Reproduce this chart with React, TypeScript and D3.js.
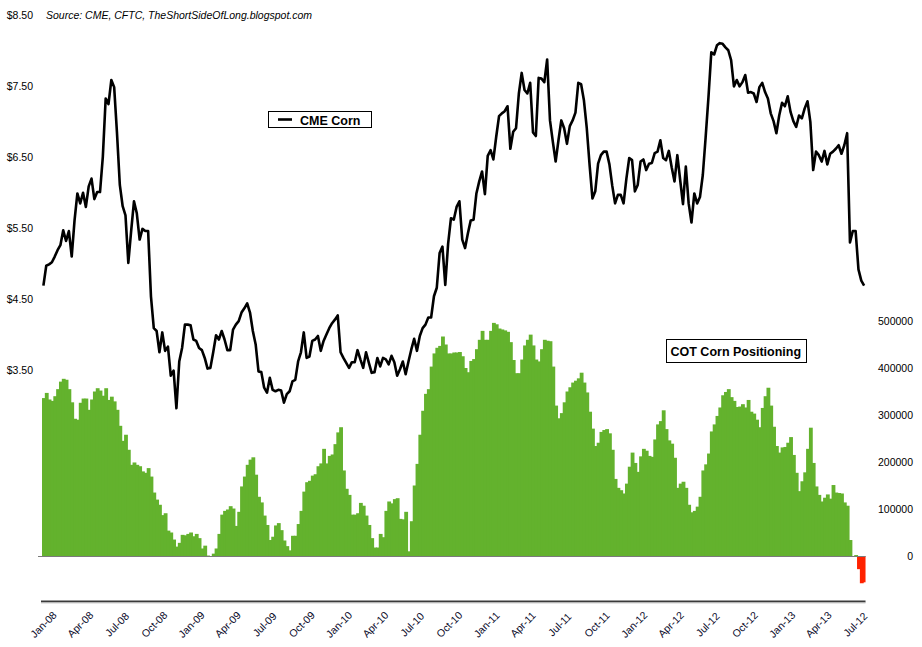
import React, { useEffect, useRef } from 'react';
import * as d3 from 'd3';

// first weekly observation (COT report week)
const startDate = new Date(2008, 0, 1);

// CME corn price, $ per bushel, weekly
const cornPrice: number[] = [
  4.69, 4.97, 4.99, 5.02, 5.10, 5.19, 5.26, 5.47, 5.32, 5.46,
  5.10, 5.61, 5.99, 5.85, 6.00, 5.80, 6.09, 6.20, 5.91, 6.01,
  6.01, 6.51, 7.33, 7.25, 7.59, 7.49, 6.84, 6.11, 5.81, 5.68,
  5.01, 5.46, 5.88, 5.71, 5.34, 5.49, 5.46, 5.46, 4.54, 4.09,
  4.05, 3.75, 4.03, 3.77, 3.83, 3.42, 3.49, 2.96, 3.62, 3.81,
  4.14, 4.14, 4.13, 3.93, 3.91, 3.81, 3.78, 3.67, 3.52, 3.53,
  3.75, 3.99, 3.93, 4.05, 3.93, 3.78, 3.78, 4.07, 4.14, 4.19,
  4.31, 4.37, 4.44, 4.31, 4.05, 3.86, 3.48, 3.47, 3.25, 3.18,
  3.39, 3.22, 3.20, 3.22, 3.21, 3.04, 3.16, 3.20, 3.34, 3.36,
  3.62, 3.75, 4.03, 3.67, 3.69, 3.91, 3.93, 3.98, 3.77, 3.91,
  4.00, 4.09, 4.16, 4.21, 4.27, 3.75, 3.67, 3.60, 3.53, 3.61,
  3.61, 3.78, 3.65, 3.53, 3.75, 3.60, 3.46, 3.47, 3.67, 3.55,
  3.67, 3.65, 3.58, 3.70, 3.61, 3.42, 3.51, 3.62, 3.44, 3.62,
  3.79, 3.94, 3.77, 3.98, 4.09, 4.14, 4.24, 4.24, 4.54, 4.66,
  5.15, 5.24, 4.70, 5.28, 5.64, 5.62, 5.80, 5.88, 5.34, 5.22,
  5.43, 5.61, 5.62, 5.99, 6.16, 6.30, 5.98, 6.52, 6.60, 6.47,
  6.79, 7.08, 7.12, 7.15, 7.22, 6.62, 6.86, 6.91, 7.40, 7.69,
  7.45, 7.40, 7.55, 6.85, 6.80, 7.62, 7.61, 7.56, 7.88, 7.02,
  6.72, 6.44, 6.74, 7.02, 6.91, 6.69, 6.94, 7.02, 7.13, 7.55,
  7.53, 7.30, 6.91, 6.39, 5.92, 6.02, 6.41, 6.53, 6.58, 6.58,
  6.40, 6.10, 5.85, 5.97, 5.97, 5.85, 6.20, 6.49, 6.46, 6.02,
  6.11, 6.44, 6.47, 6.32, 6.41, 6.42, 6.56, 6.58, 6.74, 6.49,
  6.46, 6.59, 6.36, 6.16, 6.53, 6.18, 5.84, 6.37, 5.85, 5.58,
  5.99, 5.85, 5.94, 6.25, 6.78, 7.35, 7.98, 7.95, 8.08, 8.11,
  8.10, 8.05, 8.01, 7.87, 7.50, 7.59, 7.50, 7.56, 7.66, 7.41,
  7.42, 7.40, 7.28, 7.49, 7.55, 7.42, 7.33, 7.12, 7.01, 6.84,
  7.09, 7.27, 7.22, 7.36, 7.14, 7.01, 6.93, 7.09, 7.05, 7.19,
  7.29, 7.00, 6.32, 6.58, 6.53, 6.44, 6.59, 6.40, 6.55, 6.58,
  6.62, 6.67, 6.55, 6.67, 6.84, 5.30, 5.46, 5.46, 4.92, 4.76,
  4.69,
];

// COT corn net positioning, thousands of contracts, weekly
const cotNet: number[] = [
  336, 347, 333, 330, 340, 355, 371, 377, 375, 355,
  327, 292, 290, 326, 335, 335, 311, 333, 350, 357,
  352, 341, 357, 332, 339, 329, 311, 277, 245, 258,
  226, 194, 199, 194, 191, 180, 177, 187, 169, 135,
  120, 109, 87, 91, 54, 50, 35, 20, 28, 45,
  44, 47, 50, 42, 47, 38, 16, 22, 1, 0,
  5, 16, 47, 88, 96, 99, 106, 101, 64, 94,
  148, 169, 194, 205, 210, 173, 126, 114, 86, 66,
  34, 41, 65, 70, 55, 33, 21, 12, 43, 43,
  68, 96, 137, 157, 160, 171, 174, 191, 197, 228,
  197, 213, 216, 238, 263, 274, 182, 143, 130, 88,
  88, 91, 113, 107, 86, 66, 38, 18, 18, 47,
  40, 96, 116, 112, 121, 123, 79, 78, 94, 10,
  74, 150, 196, 258, 309, 345, 355, 403, 431, 443,
  447, 467, 450, 431, 431, 433, 433, 434, 425, 400,
  391, 415, 419, 440, 460, 479, 460, 460, 479, 496,
  493, 484, 482, 480, 477, 455, 417, 389, 389, 418,
  448, 460, 471, 448, 418, 414, 440, 460, 458, 457,
  403, 320, 293, 304, 327, 350, 359, 369, 373, 378,
  390, 369, 348, 307, 271, 234, 241, 264, 268, 270,
  261, 226, 164, 145, 140, 133, 154, 190, 220, 198,
  179, 212, 228, 224, 213, 211, 248, 280, 287, 310,
  270, 246, 239, 209, 145, 154, 158, 145, 109, 93,
  96, 105, 126, 182, 195, 218, 265, 280, 298, 316,
  342, 349, 355, 338, 330, 317, 318, 323, 316, 332,
  307, 303, 290, 274, 315, 340, 358, 320, 275, 234,
  220, 231, 232, 241, 253, 215, 177, 138, 159, 178,
  228, 273, 198, 148, 130, 116, 124, 131, 122, 151,
  135, 134, 133, 114, 107, 34, -2, 2, -28, -58,
  -56,
];

// quarter labels as printed on the original (last one reads Jul-12)
const quarterLabels = [
  'Jan-08', 'Apr-08', 'Jul-08', 'Oct-08',
  'Jan-09', 'Apr-09', 'Jul-09', 'Oct-09',
  'Jan-10', 'Apr-10', 'Jul-10', 'Oct-10',
  'Jan-11', 'Apr-11', 'Jul-11', 'Oct-11',
  'Jan-12', 'Apr-12', 'Jul-12', 'Oct-12',
  'Jan-13', 'Apr-13', 'Jul-12',
];

const priceTicks = [3.5, 4.5, 5.5, 6.5, 7.5, 8.5];
const cotTicks = [0, 100, 200, 300, 400, 500];

const GREEN = '#63b22d';
const RED = '#ff2200';
const FONT = '"Liberation Sans", Arial, sans-serif';

const App: React.FC = () => {
  const svgRef = useRef<SVGSVGElement>(null);

  useEffect(() => {
    if (!svgRef.current) return;
    const svg = d3.select(svgRef.current);
    svg.selectAll('*').remove();

    const n = Math.min(cornPrice.length, cotNet.length);
    const weeks = d3.range(n).map(i => d3.timeDay.offset(startDate, 7 * i));

    const plotLeft = 42;
    const step = 2.83;
    const x = d3.scaleTime()
      .domain([startDate, d3.timeDay.offset(startDate, 7 * n)])
      .range([plotLeft, plotLeft + n * step]);

    const yPrice = d3.scaleLinear().domain([3.5, 8.5]).range([370, 15.5]);
    const yCot = d3.scaleLinear().domain([0, 500]).range([556, 321]);

    // bars (slightly overlapped so no seams show between weeks)
    svg.append('g')
      .selectAll('rect')
      .data(cotNet.slice(0, n))
      .enter().append('rect')
      .attr('x', (d, i) => x(weeks[i]))
      .attr('width', (d, i) => (i === n - 1 ? step : step + 1))
      .attr('y', d => (d >= 0 ? yCot(d) : yCot(0)))
      .attr('height', d => Math.abs(yCot(d) - yCot(0)))
      .attr('fill', d => (d >= 0 ? GREEN : RED));

    // zero line for the positioning series
    svg.append('line')
      .attr('x1', 38).attr('x2', plotLeft + n * step)
      .attr('y1', yCot(0) + 0.5).attr('y2', yCot(0) + 0.5)
      .attr('stroke', '#7a7a7a').attr('stroke-width', 1);

    // bottom axis line
    svg.append('line')
      .attr('x1', 41).attr('x2', plotLeft + n * step)
      .attr('y1', 601.5).attr('y2', 601.5)
      .attr('stroke', '#3a3a3a').attr('stroke-width', 2);
    svg.append('line')
      .attr('x1', 41).attr('x2', plotLeft + n * step)
      .attr('y1', 603).attr('y2', 603)
      .attr('stroke', '#cfcfcf').attr('stroke-width', 1);

    // price line
    const line = d3.line<number>()
      .x((d, i) => x(weeks[i]) + step / 2)
      .y(d => yPrice(d));
    svg.append('path')
      .datum(cornPrice.slice(0, n))
      .attr('d', line)
      .attr('fill', 'none')
      .attr('stroke', '#000')
      .attr('stroke-width', 2.6)
      .attr('stroke-linejoin', 'round');

    // left axis labels
    svg.append('g')
      .selectAll('text')
      .data(priceTicks)
      .enter().append('text')
      .attr('x', 33)
      .attr('y', d => yPrice(d))
      .attr('dy', '0.35em')
      .attr('text-anchor', 'end')
      .attr('font-family', FONT)
      .attr('font-size', '10.5px')
      .attr('fill', '#000')
      .text(d => '$' + d.toFixed(2));

    // right axis labels
    svg.append('g')
      .selectAll('text')
      .data(cotTicks)
      .enter().append('text')
      .attr('x', 913)
      .attr('y', d => yCot(d))
      .attr('dy', '0.35em')
      .attr('text-anchor', 'end')
      .attr('font-family', FONT)
      .attr('font-size', '10.5px')
      .attr('fill', '#000')
      .text(d => String(d * 1000));

    // quarter labels
    svg.append('g')
      .selectAll('text')
      .data(quarterLabels)
      .enter().append('text')
      .attr('transform', (d, q) => {
        const date = new Date(2008 + Math.floor(q / 4), (q % 4) * 3, 1);
        return `translate(${x(date) + 1.5},624.5) rotate(-45)`;
      })
      .attr('dy', '0.35em')
      .attr('text-anchor', 'middle')
      .attr('font-family', FONT)
      .attr('font-size', '10.5px')
      .attr('fill', '#0a0a2a')
      .text(d => d);

    // source note
    svg.append('text')
      .attr('x', 46).attr('y', 19)
      .attr('font-family', FONT)
      .attr('font-size', '10.5px')
      .attr('font-style', 'italic')
      .attr('fill', '#000')
      .text('Source: CME, CFTC, TheShortSideOfLong.blogspot.com');

    // legend: CME Corn
    svg.append('rect')
      .attr('x', 268.5).attr('y', 111.5).attr('width', 103).attr('height', 16)
      .attr('fill', '#fff').attr('stroke', '#000').attr('stroke-width', 1);
    svg.append('line')
      .attr('x1', 278).attr('x2', 292).attr('y1', 119.5).attr('y2', 119.5)
      .attr('stroke', '#000').attr('stroke-width', 2.6);
    svg.append('text')
      .attr('x', 300).attr('y', 124.5)
      .attr('font-family', FONT)
      .attr('font-size', '12.5px')
      .attr('font-weight', 'bold')
      .attr('fill', '#000')
      .text('CME Corn');

    // legend: COT Corn Positioning
    svg.append('rect')
      .attr('x', 666.5).attr('y', 339.5).attr('width', 140).attr('height', 23)
      .attr('fill', '#fff').attr('stroke', '#000').attr('stroke-width', 1);
    svg.append('text')
      .attr('x', 670.5).attr('y', 356)
      .attr('font-family', FONT)
      .attr('font-size', '12.5px')
      .attr('font-weight', 'bold')
      .attr('fill', '#000')
      .text('COT Corn Positioning');
  }, []);

  return (
    <svg
      ref={svgRef}
      width={922}
      height={647}
      style={{ position: 'absolute', left: 0, top: 0, background: '#fff' }}
    />
  );
};

export default App;
